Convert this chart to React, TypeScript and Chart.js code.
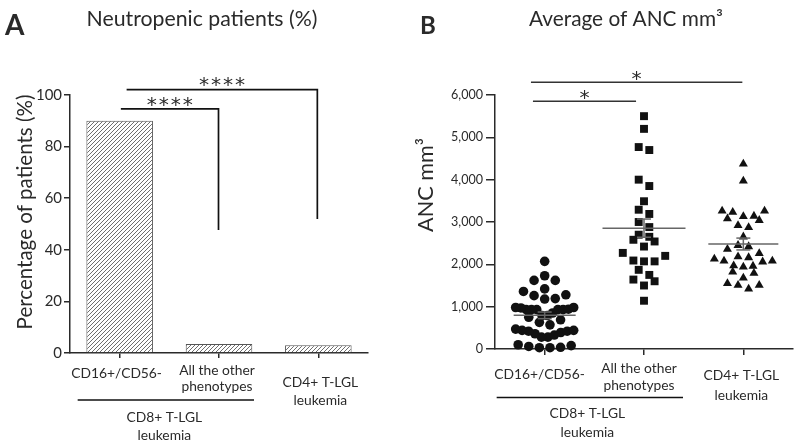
import React, { useEffect, useRef } from 'react';
import { Chart, registerables } from 'chart.js';

Chart.register(...registerables);

const FAMILY = 'Lato, "Open Sans", "DejaVu Sans", sans-serif';
const STAR_FAMILY = '"DejaVu Sans", sans-serif';
const INK = '#2a2a2a';

// ---------- shared categories ----------
const categoryLines: string[][] = [['CD16+/CD56-'], ['All the other', 'phenotypes'], ['CD4+ T-LGL', 'leukemia']];
const groupLines: string[] = ['CD8+ T-LGL', 'leukemia'];

// ---------- panel A ----------
const titleA = 'Neutropenic patients (%)';
const yTitleA = 'Percentage of patients (%)';
const neutropenicPct = [90, 3.5, 3];
const pctTicks = [0, 20, 40, 60, 80, 100];
const sigA = [
  { from: 0, to: 1, label: '****' },
  { from: 0, to: 2, label: '****' },
];

// ---------- panel B ----------
const titleB = 'Average of ANC mm³';
const yTitleB = 'ANC mm³';
const ancCD16 = [30, 30, 40, 60, 80, 100, 280, 280, 330, 360, 390, 420, 420, 440, 440, 470, 570, 630, 690, 750, 790, 790, 850, 930, 930, 930, 930, 930, 940, 970, 980, 980, 1180, 1190, 1260, 1280, 1360, 1420, 1620, 1620, 1730, 2070];
const ancOther = [5500, 5200, 4770, 4700, 4000, 3850, 3490, 3290, 3190, 3000, 2880, 2700, 2650, 2580, 2540, 2420, 2200, 2270, 2070, 2070, 2090, 1870, 1750, 1600, 1640, 1500, 1140];
const ancCD4 = [4370, 3970, 3260, 3230, 3260, 3130, 3140, 3040, 3080, 2920, 2870, 2650, 2450, 2420, 2360, 2260, 2160, 2180, 2080, 2060, 2130, 2080, 1940, 1970, 1960, 1790, 1820, 1680, 1510, 1510, 1550, 1420];
const ancMean = [795, 2855, 2480];
const ancSem = [78, 215, 140];
const ancTicks = [0, 1000, 2000, 3000, 4000, 5000, 6000];
const sigB = [
  { from: 0, to: 1, label: '*' },
  { from: 0, to: 2, label: '*' },
];

// ---------- helpers ----------
const font = (size: number, weight = '400', family = FAMILY) => `${weight} ${size}px ${family}`;

function fitSize(text: string, width: number, weight = '400'): number {
  const c = document.createElement('canvas').getContext('2d')!;
  c.font = font(100, weight);
  return (100 * width) / c.measureText(text).width;
}

function seg(ctx: CanvasRenderingContext2D, x1: number, y1: number, x2: number, y2: number) {
  ctx.beginPath();
  ctx.moveTo(x1, y1);
  ctx.lineTo(x2, y2);
  ctx.stroke();
}

function drawStars(ctx: CanvasRenderingContext2D, label: string, cx: number, cy: number, glyphH: number, pitch: number) {
  ctx.font = font(100, '400', STAR_FAMILY);
  const m0 = ctx.measureText('*');
  const size = (100 * glyphH) / (m0.actualBoundingBoxAscent + m0.actualBoundingBoxDescent);
  ctx.font = font(size, '400', STAR_FAMILY);
  const m = ctx.measureText('*');
  const base = cy + (m.actualBoundingBoxAscent - m.actualBoundingBoxDescent) / 2;
  ctx.textAlign = 'center';
  ctx.textBaseline = 'alphabetic';
  const n = label.length;
  for (let k = 0; k < n; k++) ctx.fillText(label[k], cx + (k - (n - 1) / 2) * pitch, base);
}

function swarmOffsets(pys: number[], spacing: number, maxHalf: number, binPx: number): number[] {
  const order = pys.map((_, i) => i).sort((a, b) => pys[b] - pys[a]);
  const out = new Array(pys.length).fill(0);
  let i = 0;
  while (i < order.length) {
    const start = pys[order[i]];
    const bin: number[] = [];
    while (i < order.length && start - pys[order[i]] <= binPx) {
      bin.push(order[i]);
      i++;
    }
    const n = bin.length;
    const step = n > 1 ? Math.min(spacing, (2 * maxHalf) / (n - 1)) : 0;
    const slots: number[] = [];
    if (n % 2 === 1) {
      slots.push(0);
      for (let k = 1; slots.length < n; k++) slots.push(k, -k);
    } else {
      for (let k = 0; slots.length < n; k++) slots.push(k + 0.5, -(k + 0.5));
    }
    bin.forEach((p, j) => {
      out[p] = slots[j] * step;
    });
  }
  return out;
}

function makeHatch(): CanvasPattern {
  const c = document.createElement('canvas');
  c.width = 4;
  c.height = 4;
  const g = c.getContext('2d')!;
  g.fillStyle = '#ffffff';
  g.fillRect(0, 0, 4, 4);
  g.strokeStyle = '#6e6e6e';
  g.lineWidth = 1;
  g.beginPath();
  g.moveTo(-1, 5);
  g.lineTo(5, -1);
  g.moveTo(-1, 1);
  g.lineTo(1, -1);
  g.moveTo(3, 5);
  g.lineTo(5, 3);
  g.stroke();
  return g.createPattern(c, 'repeat')!;
}

type Bracket = { from: number; to: number; label: string; level: number; drop?: number; fromShift: number; toShift: number; starGap: number; pitch: number };

type PanelCfg = {
  id: string;
  letter: string; letterX: number; letterBase: number; letterSize: number;
  title: string; titleCx: number; titleBase: number; titleSize: number;
  yTitle: string; yTitleX: number; yTitleCy: number; yTitleSize: number; yTitleBaseline: CanvasTextBaseline;
  labelSize: number; labelDx: number[]; labelBase: number[][];
  groupFrom: number; groupTo: number; groupLineDy: number; groupDx: number; groupBase: number[];
  brackets: Bracket[]; bracketInk: string; bracketWidth: number; starH: number;
  means?: { half: number[]; cap: number };
};

function makePanelPlugin(cfg: PanelCfg) {
  return {
    id: cfg.id,
    afterDraw(chart: any) {
      const { ctx, chartArea } = chart;
      const xs = chart.scales.x;
      const ys = chart.scales.y;
      const bottom = chartArea.bottom;
      ctx.save();

      // mean +/- SEM
      if (cfg.means) {
        ctx.strokeStyle = '#666666';
        ctx.lineWidth = 1.5;
        ancMean.forEach((m, i) => {
          const cx = xs.getPixelForValue(i);
          const hw = cfg.means!.half[i];
          const cap = cfg.means!.cap;
          const ym = ys.getPixelForValue(m);
          const yt = ys.getPixelForValue(m + ancSem[i]);
          const yb = ys.getPixelForValue(m - ancSem[i]);
          seg(ctx, cx - hw, ym, cx + hw, ym);
          seg(ctx, cx, yt, cx, yb);
          seg(ctx, cx - cap, yt, cx + cap, yt);
          seg(ctx, cx - cap, yb, cx + cap, yb);
        });
      }

      ctx.fillStyle = INK;
      // panel letter
      ctx.font = font(cfg.letterSize, '700');
      ctx.textAlign = 'left';
      ctx.textBaseline = 'alphabetic';
      ctx.fillText(cfg.letter, cfg.letterX, cfg.letterBase);

      // title
      ctx.font = font(cfg.titleSize);
      ctx.textAlign = 'center';
      ctx.fillText(cfg.title, cfg.titleCx, cfg.titleBase);

      // y title
      ctx.save();
      ctx.translate(cfg.yTitleX, cfg.yTitleCy);
      ctx.rotate(-Math.PI / 2);
      ctx.font = font(cfg.yTitleSize);
      ctx.textAlign = 'center';
      ctx.textBaseline = cfg.yTitleBaseline;
      ctx.fillText(cfg.yTitle, 0, 0);
      ctx.restore();

      // category labels
      ctx.font = font(cfg.labelSize);
      ctx.textAlign = 'center';
      ctx.textBaseline = 'alphabetic';
      categoryLines.forEach((lines, i) => {
        const cx = xs.getPixelForValue(i) + cfg.labelDx[i];
        lines.forEach((ln, j) => ctx.fillText(ln, cx, bottom + cfg.labelBase[i][j]));
      });

      // grouping line + label
      const g0 = xs.getPixelForValue(0);
      const g1 = xs.getPixelForValue(1);
      ctx.strokeStyle = '#111111';
      ctx.lineWidth = 1.6;
      seg(ctx, g0 + cfg.groupFrom, bottom + cfg.groupLineDy, g1 + cfg.groupTo, bottom + cfg.groupLineDy);
      groupLines.forEach((ln, j) => ctx.fillText(ln, (g0 + g1) / 2 + cfg.groupDx, bottom + cfg.groupBase[j]));

      // significance brackets
      ctx.strokeStyle = cfg.bracketInk;
      ctx.lineWidth = cfg.bracketWidth;
      cfg.brackets.forEach((b) => {
        const x1 = xs.getPixelForValue(b.from + b.fromShift);
        const x2 = xs.getPixelForValue(b.to + b.toShift);
        const y = ys.getPixelForValue(b.level);
        ctx.beginPath();
        ctx.moveTo(x1, y);
        ctx.lineTo(x2, y);
        if (b.drop !== undefined) ctx.lineTo(x2, ys.getPixelForValue(b.drop));
        ctx.stroke();
        ctx.fillStyle = INK;
        drawStars(ctx, b.label, (x1 + x2) / 2, y - b.starGap, cfg.starH, b.pitch);
      });

      ctx.restore();
    },
  };
}

export default function App() {
  const refA = useRef<HTMLCanvasElement>(null);
  const refB = useRef<HTMLCanvasElement>(null);

  useEffect(() => {
    const tickSizeA = fitSize('100', 26);
    const tickSizeB = fitSize('6,000', 32);
    const labelSize = 13.8;

    const axisCommon = {
      border: { color: INK, width: 1.5 },
    };

    const cfgA: PanelCfg = {
      id: 'panelA',
      letter: 'A', letterX: 5, letterBase: 35, letterSize: 28,
      title: titleA, titleCx: 202, titleBase: 26, titleSize: fitSize(titleA, 231),
      yTitle: yTitleA, yTitleX: 25, yTitleCy: 212, yTitleSize: fitSize(yTitleA, 235), yTitleBaseline: 'middle',
      labelSize,
      labelDx: [-3, -2, 2],
      labelBase: [[25], [22, 37.5], [34, 52]],
      groupFrom: -42, groupTo: 35, groupLineDy: 47, groupDx: -5, groupBase: [69, 87],
      brackets: [
        { ...sigA[0], level: 94.6, drop: 47.7, fromShift: 0.012, toShift: -0.005, starGap: 7.7, pitch: 12 },
        { ...sigA[1], level: 102.1, drop: 51.9, fromShift: 0.07, toShift: -0.01, starGap: 8.2, pitch: 12 },
      ],
      bracketInk: '#111111', bracketWidth: 1.7, starH: 9.3,
    };

    const cfgB: PanelCfg = {
      id: 'panelB',
      letter: 'B', letterX: 20, letterBase: 33.5, letterSize: 24,
      title: titleB, titleCx: 226, titleBase: 26, titleSize: fitSize(titleB, 194),
      yTitle: yTitleB, yTitleX: 33, yTitleCy: 185, yTitleSize: fitSize(yTitleB, 94), yTitleBaseline: 'alphabetic',
      labelSize,
      labelDx: [-5, -5, -2],
      labelBase: [[30], [24, 40.5], [31, 51]],
      groupFrom: -48, groupTo: 39, groupLineDy: 48.5, groupDx: -7, groupBase: [69, 88],
      brackets: [
        { ...sigB[0], level: 5850, fromShift: -0.118, toShift: -0.08, starGap: 6.4, pitch: 12 },
        { ...sigB[1], level: 6300, fromShift: -0.138, toShift: -0.01, starGap: 7.2, pitch: 12 },
      ],
      bracketInk: '#333333', bracketWidth: 1.5, starH: 9.3,
      means: { half: [31, 41.5, 35], cap: 7 },
    };

    const chartA = new Chart(refA.current!, {
      type: 'bar',
      data: {
        labels: categoryLines.map((l) => l.join(' ')),
        datasets: [
          {
            data: neutropenicPct,
            backgroundColor: makeHatch(),
            borderColor: '#555555',
            borderWidth: 1,
            barPercentage: 0.67,
            categoryPercentage: 1,
          },
        ],
      },
      options: {
        responsive: false,
        animation: false,
        layout: { padding: { top: 95, right: 32, left: 0, bottom: 0 } },
        plugins: { legend: { display: false }, tooltip: { enabled: false } },
        scales: {
          x: {
            type: 'category',
            offset: true,
            ...axisCommon,
            grid: { offset: false, drawOnChartArea: false, color: INK, lineWidth: 1.5, tickLength: 5 },
            ticks: { display: false },
            afterFit: (s: any) => { s.height = 93; },
          },
          y: {
            min: pctTicks[0],
            max: pctTicks[pctTicks.length - 1],
            ...axisCommon,
            grid: { drawOnChartArea: false, color: INK, lineWidth: 1.5, tickLength: 6 },
            ticks: { color: INK, padding: 2, font: { family: FAMILY, size: tickSizeA } },
            afterBuildTicks: (s: any) => { s.ticks = pctTicks.map((value) => ({ value })); },
            afterFit: (s: any) => { s.width = 70; },
          },
        },
      } as any,
      plugins: [makePanelPlugin(cfgA)],
    });

    const pointBase = { backgroundColor: '#111111', borderWidth: 0, clip: false as any };
    const chartB = new Chart(refB.current!, {
      type: 'scatter',
      data: {
        datasets: [
          { ...pointBase, data: ancCD16.map((y) => ({ x: 0, y })), pointStyle: 'circle', pointRadius: 4.8 },
          { ...pointBase, data: ancOther.map((y) => ({ x: 1, y })), pointStyle: 'rect', pointRadius: 5.6 },
          { ...pointBase, data: ancCD4.map((y) => ({ x: 2, y })), pointStyle: 'triangle', pointRadius: 5.2 },
        ],
      },
      options: {
        responsive: false,
        animation: false,
        layout: { padding: { top: 95, right: 7, left: 0, bottom: 0 } },
        plugins: { legend: { display: false }, tooltip: { enabled: false } },
        scales: {
          x: {
            type: 'linear',
            min: -0.5,
            max: categoryLines.length - 0.5,
            ...axisCommon,
            grid: { drawOnChartArea: false, color: INK, lineWidth: 1.5, tickLength: 6 },
            ticks: { display: false },
            afterBuildTicks: (s: any) => { s.ticks = categoryLines.map((_, value) => ({ value })); },
            afterFit: (s: any) => { s.height = 97; },
          },
          y: {
            min: ancTicks[0],
            max: ancTicks[ancTicks.length - 1],
            ...axisCommon,
            grid: { drawOnChartArea: false, color: INK, lineWidth: 1.5, tickLength: 9 },
            ticks: {
              color: INK,
              padding: 3,
              font: { family: FAMILY, size: tickSizeB },
              callback: (v: any) => Number(v).toLocaleString('en-US'),
            },
            afterBuildTicks: (s: any) => { s.ticks = ancTicks.map((value) => ({ value })); },
            afterFit: (s: any) => { s.width = 95; },
          },
        },
      } as any,
      plugins: [makePanelPlugin(cfgB)],
    });

    // beeswarm-style horizontal spread of the points, computed from the scales
    const xs: any = chartB.scales.x;
    const ys: any = chartB.scales.y;
    const perCat = xs.getPixelForValue(1) - xs.getPixelForValue(0);
    [ancCD16, ancOther, ancCD4].forEach((vals, gi) => {
      const pys = vals.map((v) => ys.getPixelForValue(v));
      const offs = swarmOffsets(pys, 10.6, 29, 9);
      (chartB.data.datasets[gi] as any).data = vals.map((y, k) => ({ x: gi + offs[k] / perCat, y }));
    });
    chartB.update('none');

    return () => {
      chartA.destroy();
      chartB.destroy();
    };
  }, []);

  return (
    <div style={{ position: 'fixed', left: 0, top: 0, width: 800, height: 446, background: '#ffffff' }}>
      <canvas ref={refA} width={400} height={446} style={{ position: 'absolute', left: 0, top: 0 }} />
      <canvas ref={refB} width={400} height={446} style={{ position: 'absolute', left: 400, top: 0 }} />
    </div>
  );
}
